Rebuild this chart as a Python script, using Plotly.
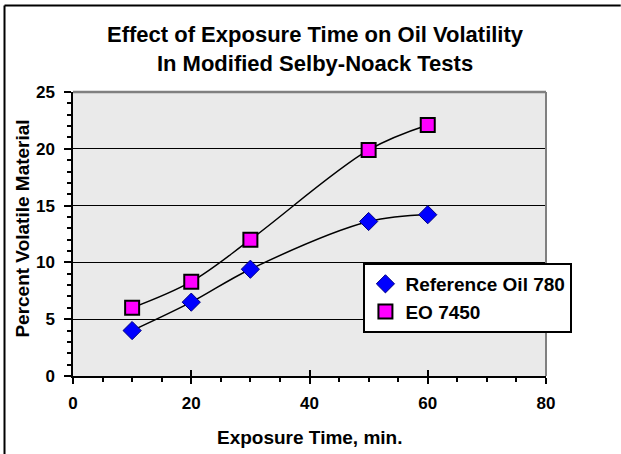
import plotly.graph_objects as go

exposure_time = [10, 20, 30, 50, 60]
ref_oil_780 = [4.0, 6.5, 9.4, 13.6, 14.2]
eo_7450 = [6.0, 8.3, 12.0, 19.9, 22.1]
series_names = ["Reference Oil 780", "EO 7450"]
title_text = "Effect of Exposure Time on Oil Volatility<br>In Modified Selby-Noack Tests"
x_title = "Exposure Time, min."
y_title = "Percent Volatile Material"

FONT = "Liberation Sans, Arial, sans-serif"

fig = go.Figure()

# smooth connecting lines (no legend)
for ys in (ref_oil_780, eo_7450):
    fig.add_trace(go.Scatter(
        x=exposure_time, y=ys, mode="lines",
        line=dict(color="black", width=1.5, shape="spline", smoothing=1),
        showlegend=False, hoverinfo="skip"))

fig.add_trace(go.Scatter(
    x=exposure_time, y=ref_oil_780, mode="markers", name=series_names[0],
    marker=dict(symbol="diamond", size=14, color="#0000FF",
                line=dict(color="#000080", width=1))))
fig.add_trace(go.Scatter(
    x=exposure_time, y=eo_7450, mode="markers", name=series_names[1],
    marker=dict(symbol="square", size=14, color="#FF00FF",
                line=dict(color="black", width=2))))

# invisible trace to host the overlay axis (crossing major x ticks)
fig.add_trace(go.Scatter(x=[None], y=[None], xaxis="x2", showlegend=False,
                         hoverinfo="skip"))

fig.update_layout(
    width=621, height=454,
    margin=dict(l=73, r=75, t=92, b=78),
    paper_bgcolor="white",
    plot_bgcolor="#EAEAEA",
    font=dict(family=FONT, color="black", size=17, weight="bold"),
    showlegend=True,
    legend=dict(
        x=0.614, y=0.398, xanchor="left", yanchor="top",
        bgcolor="white", bordercolor="black", borderwidth=2,
        font=dict(family=FONT, size=19, color="black", weight="bold"),
        tracegroupgap=0, itemwidth=30),
    xaxis=dict(
        range=[0, 80], dtick=20, tick0=0,
        showgrid=False, zeroline=False,
        showline=True, linecolor="black", linewidth=1.5,
        ticks="outside", ticklen=6, tickwidth=1.5, tickcolor="black",
        minor=dict(dtick=5, ticks="outside", ticklen=4, tickwidth=1.5, tickcolor="black", showgrid=False),
        tickfont=dict(family=FONT, size=17, color="black", weight="bold"),
        ticklabelstandoff=5),
    xaxis2=dict(
        range=[0, 80], dtick=20, tick0=0, overlaying="x", anchor="y", side="bottom",
        showgrid=False, zeroline=False, showline=False, showticklabels=False,
        ticks="inside", ticklen=6, tickwidth=1.5, tickcolor="black"),
    yaxis=dict(
        range=[0, 25], dtick=5, tick0=0,
        showgrid=True, gridcolor="black", gridwidth=1,
        zeroline=False,
        showline=True, linecolor="black", linewidth=1.5,
        ticks="outside", ticklen=7, tickwidth=1.5, tickcolor="black",
        minor=dict(dtick=1, ticks="outside", ticklen=4, tickwidth=1.5, tickcolor="black", showgrid=False),
        tickfont=dict(family=FONT, size=17, color="black", weight="bold"),
        ticklabelstandoff=6),
    annotations=[
        dict(text="<b>" + title_text + "</b>", xref="paper", yref="paper",
             x=0.512, y=1.151, xanchor="center", yanchor="middle", showarrow=False,
             font=dict(family=FONT, size=22, color="black")),
        dict(text="<b>" + x_title + "</b>", xref="paper", yref="paper",
             x=0.5, y=-0.215, xanchor="center", yanchor="middle", showarrow=False,
             font=dict(family=FONT, size=19, color="black")),
        dict(text="<b>" + y_title + "</b>", xref="paper", yref="paper",
             x=-0.1057, y=0.519, xanchor="center", yanchor="middle", showarrow=False,
             textangle=-90, font=dict(family=FONT, size=19, color="black")),
    ],
    shapes=[
        # gray top / right plot border
        dict(type="line", xref="paper", yref="paper", x0=0, x1=1, y0=1, y1=1,
             line=dict(color="#808080", width=2.5)),
        dict(type="line", xref="paper", yref="paper", x0=1, x1=1, y0=0, y1=1,
             line=dict(color="#808080", width=2)),
        # outer chart frame: only left and top edges fall inside the picture
        dict(type="line", xref="paper", yref="paper", x0=-0.1448, x1=-0.1448,
             y0=-0.28, y1=1.305, line=dict(color="black", width=2), layer="above"),
        dict(type="line", xref="paper", yref="paper", x0=-0.1448, x1=1.158,
             y0=1.305, y1=1.305, line=dict(color="black", width=2), layer="above"),
    ],
)

fig.write_html("out.html", config={"displayModeBar": False},
               post_script="document.body.style.margin='0';document.body.style.overflow='hidden';")
